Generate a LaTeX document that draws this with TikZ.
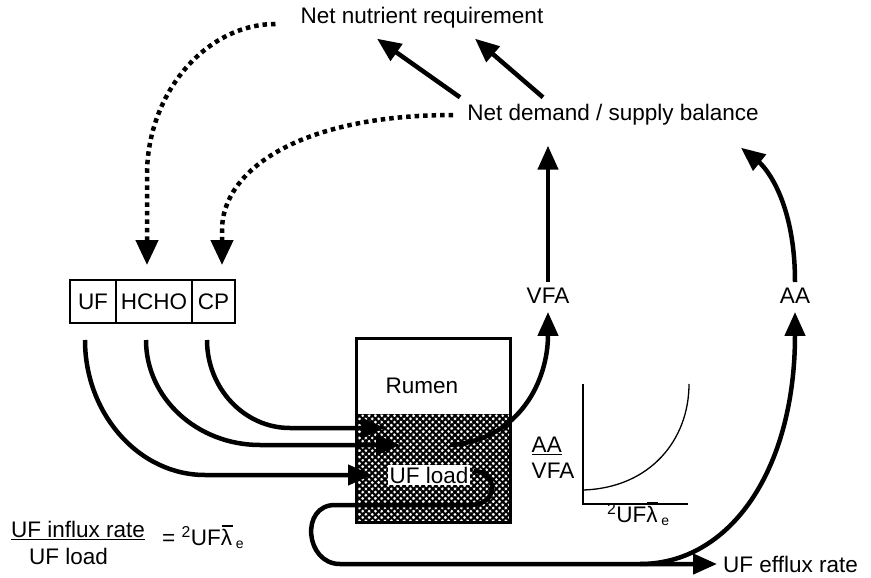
\documentclass[tikz,border=0pt]{standalone}
\usepackage{fontspec}
\setmainfont{Liberation Sans}
\usetikzlibrary{arrows.meta,positioning,patterns.meta}
\newcommand{\lbar}{\makebox[0pt][l]{\hspace{0.04em}\raisebox{0.8em}{\rule{0.48em}{0.09em}}}λ}

\begin{document}
\begin{tikzpicture}[x=1pt, y=-1pt,
    lbl/.style={font=\fontsize{22.5}{26.5}\selectfont, inner sep=0pt},
    cell/.style={draw, line width=1.4pt, minimum height=43pt, inner sep=0pt,
                 outer sep=0pt, font=\fontsize{22.5}{26.5}\selectfont},
    flow/.style={-{Triangle[length=24pt,width=20pt]}, line width=4.5pt},
    dotflow/.style={-{Triangle[length=25pt,width=22pt]}, line width=4.5pt,
                    dash pattern=on 4.5pt off 4pt},
    graphline/.style={line width=1.3pt}
]
\useasboundingbox (0,0) rectangle (871,578);

% --- top labels ---
\node[lbl] (req) at (422,18) {Net nutrient requirement};
\node[lbl] (bal) at (613,115) {Net demand / supply balance};

% --- feed box ---
\node[cell, minimum width=46pt]              (uf)   at (93,301.5) {UF};
\node[cell, minimum width=76pt, right=0pt of uf]   (hcho) {HCHO};
\node[cell, minimum width=43pt, right=0pt of hcho] (cp)   {CP};

% --- rumen ---
\path[pattern={Lines[angle=45,distance=4.5pt,line width=2.1pt]}] (356,414) rectangle (510,522);
\path[pattern={Lines[angle=-45,distance=4.5pt,line width=2.1pt]}] (356,414) rectangle (510,522);
\node[draw, line width=3pt, minimum width=154pt, minimum height=184pt, inner sep=0pt] (rumen) at (433,430) {};
\node[lbl] (rumlbl) at (422,386) {Rumen};
\node[lbl, fill=white, inner sep=2pt] (load) at (429,475) {UF load};

% --- products ---
\node[lbl] (vfa) at (548,296) {VFA};
\node[lbl] (aa)  at (795,296) {AA};
\node[lbl, anchor=west] (efflux) at (723,564) {UF efflux rate};

% --- graph ---
\draw[graphline] (583,384) -- (583,504) -- (688,504);
\draw[graphline] (583,490) .. controls (650,488) and (689,440) .. (689,384);
\node[lbl, align=left] (ratio) at (553,458) {\underline{AA}\\VFA};
\node[lbl, anchor=base west] (rate) at (607,522) {\textsuperscript{2}UF\lbar\,\raisebox{-0.15em}{\fontsize{14}{16}\selectfont e}};

% --- equation ---
\node[lbl, align=left, anchor=north west] (influx) at (11,521) {\underline{UF influx rate}\\\hspace{18pt}UF load};
\node[lbl, anchor=base west] (lambda) at (162,545) {= \textsuperscript{2}UF\lbar\,\raisebox{-0.15em}{\fontsize{14}{16}\selectfont e}};

% --- free ends ---
\coordinate (in1)    at (372,475);
\coordinate (in2)    at (400,445);
\coordinate (in3)    at (385,428);
\coordinate (vfaout) at (450,445);
\coordinate (split)  at (640,564);

% --- arrows ---
\draw[flow] ([shift={(-8,17)}]uf.south) .. controls +(0,74) and +(-66,0) .. (205,475) -- (in1);
\draw[flow] ([shift={(-8,17)}]hcho.south) .. controls +(0,58) and +(-63,0) .. (260,445) -- (in2);
\draw[flow] ([shift={(-6.5,17)}]cp.south) .. controls +(0,48) and +(-46,0) .. (290,428) -- (in3);
\draw[flow] (vfaout) .. controls (520,440) and (548,380) .. ([shift={(0,8)}]vfa.south);
\draw[flow] ([shift={(3,-4)}]load.east) .. controls +(24,0) and +(30,0) .. (470,505) -- (335,505)
    .. controls +(-35,0) and +(-35,0) .. (340,564) -- ([shift={(-6,0)}]efflux.west);
\draw[flow] (split) .. controls (730,564) and (795,470) .. ([shift={(0,8)}]aa.south);
\draw[flow] ([yshift=6pt]vfa.north) -- ([yshift=-20pt]bal.south -| vfa.north);
\draw[flow] ([shift={(0,-6)}]aa.north) .. controls +(0,-80) and +(25,20) .. ([shift={(-18,22)}]bal.south east);
\draw[flow] ([shift={(-153,-7)}]bal.north) -- ([shift={(-45,10)}]req.south);
\draw[flow] ([shift={(-70,-7)}]bal.north) -- ([shift={(53,10)}]req.south);
\draw[dotflow] ([shift={(-25,6)}]req.west) .. controls (207,24) and (147,92) .. (147,175) -- ([shift={(-7,-15)}]hcho.north);
\draw[dotflow] ([shift={(-14,0)}]bal.west) .. controls (300,115) and (222,170) .. (222,230) -- ([shift={(8.5,-15)}]cp.north);

\end{tikzpicture}
\end{document}
